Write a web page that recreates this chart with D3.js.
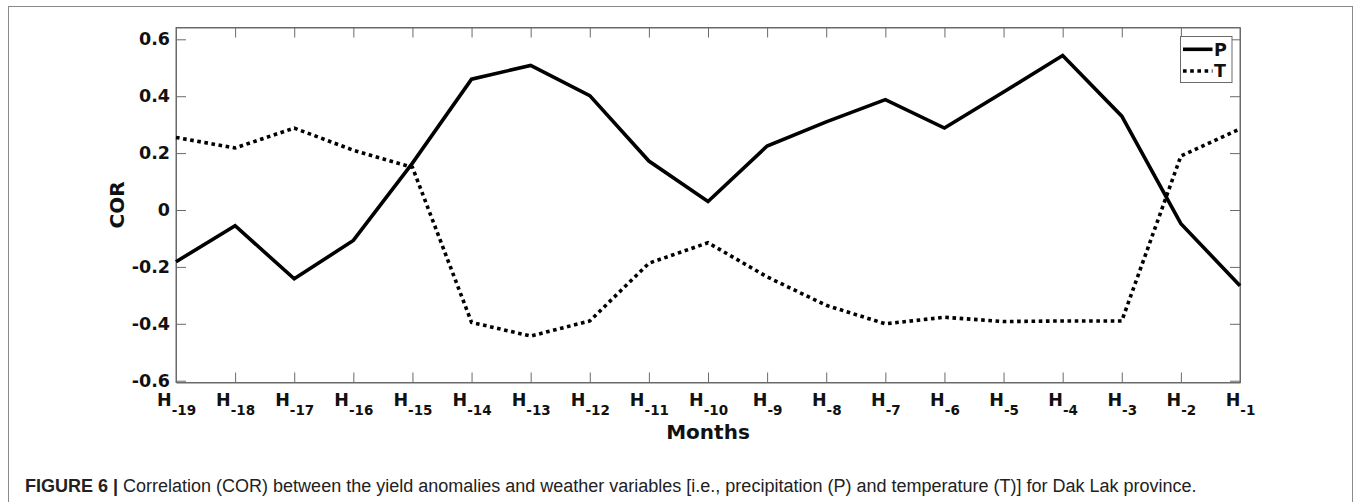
<!DOCTYPE html>
<html>
<head>
<meta charset="utf-8">
<script src="https://cdn.jsdelivr.net/npm/d3@7"></script>
<style>
  html, body { margin: 0; padding: 0; background: #fff; }
  svg { display: block; }
</style>
</head>
<body>
<svg id="chart" width="1354" height="502"></svg>
<script>
// ---- data ----
const months = ["-19","-18","-17","-16","-15","-14","-13","-12","-11","-10","-9","-8","-7","-6","-5","-4","-3","-2","-1"];
const precip = [-0.182, -0.055, -0.242, -0.107, 0.165, 0.46, 0.508, 0.402, 0.172, 0.03, 0.225, 0.31, 0.388, 0.288, 0.415, 0.543, 0.33, -0.048, -0.266];
const temp   = [0.255, 0.218, 0.288, 0.21, 0.15, -0.395, -0.443, -0.39, -0.187, -0.115, -0.235, -0.335, -0.4, -0.377, -0.392, -0.39, -0.39, 0.19, 0.285];
const yTicks = [-0.6, -0.4, -0.2, 0, 0.2, 0.4, 0.6];
const yTickLabels = ["-0.6", "-0.4", "-0.2", "0", "0.2", "0.4", "0.6"];
const seriesNames = ["P", "T"];

// ---- layout ----
const svg = d3.select("#chart");
const L = 176, R = 1240, T = 27.5, B = 382.5;
const axisColor = "#6a6a6a";
const tickFont = "DejaVu Sans, sans-serif";

// outer frame
svg.append("rect")
  .attr("x", 8.5).attr("y", 6.5)
  .attr("width", 1344).attr("height", 520)
  .attr("fill", "none").attr("stroke", "#8a8a8a").attr("stroke-width", 1);

const x = d3.scalePoint().domain(months).range([L, R]).padding(0);
const y = d3.scaleLinear().domain([-0.6063, 0.6415]).range([B, T]);

// plot box
svg.append("rect")
  .attr("x", L).attr("y", T).attr("width", R - L).attr("height", B - T)
  .attr("fill", "none").attr("stroke", axisColor).attr("stroke-width", 1);

// axes
const gBottom = svg.append("g").attr("transform", `translate(0,${B})`)
  .call(d3.axisBottom(x).tickSizeInner(-10).tickSizeOuter(0).tickPadding(11));
const gTop = svg.append("g").attr("transform", `translate(0,${T})`)
  .call(d3.axisTop(x).tickSizeInner(-10).tickSizeOuter(0).tickFormat(""));
const gLeft = svg.append("g").attr("transform", `translate(${L},0)`)
  .call(d3.axisLeft(y).tickValues(yTicks).tickSizeInner(-10).tickSizeOuter(0).tickPadding(6)
        .tickFormat((d, i) => yTickLabels[i]));
const gRight = svg.append("g").attr("transform", `translate(${R},0)`)
  .call(d3.axisRight(y).tickValues(yTicks).tickSizeInner(-10).tickSizeOuter(0).tickFormat(""));

[gBottom, gTop, gLeft, gRight].forEach(g => {
  g.select(".domain").attr("stroke", axisColor);
  g.selectAll(".tick line").attr("stroke", axisColor);
});

gLeft.selectAll(".tick text")
  .attr("font-family", tickFont).attr("font-weight", "bold")
  .attr("font-size", "17.5px").attr("fill", "#111");

// x tick labels with subscripts
gBottom.selectAll(".tick text").each(function(d) {
  const t = d3.select(this);
  t.text(null)
    .attr("font-family", tickFont).attr("font-weight", "bold")
    .attr("fill", "#111").attr("font-size", "17.5px");
  t.append("tspan").text("H");
  t.append("tspan").attr("font-size", "13.5px").attr("dy", "9").text(d);
});

// axis titles
svg.append("text")
  .attr("x", (L + R) / 2).attr("y", 438.5)
  .attr("text-anchor", "middle")
  .attr("font-family", tickFont).attr("font-weight", "bold")
  .attr("font-size", "20px").attr("fill", "#111")
  .text("Months");

svg.append("text")
  .attr("transform", `translate(124,${(T + B) / 2}) rotate(-90)`)
  .attr("text-anchor", "middle")
  .attr("font-family", tickFont).attr("font-weight", "bold")
  .attr("font-size", "20px").attr("fill", "#111")
  .text("COR");

// lines
const line = d3.line().x((d, i) => x(months[i])).y(d => y(d));
const styles = { P: null, T: "3.6,3.6" };
const data = { P: precip, T: temp };

seriesNames.forEach(name => {
  svg.append("path")
    .datum(data[name])
    .attr("d", line)
    .attr("fill", "none")
    .attr("stroke", "#000")
    .attr("stroke-width", 3.6)
    .attr("stroke-dasharray", styles[name]);
});

// legend
const lg = svg.append("g");
lg.append("rect")
  .attr("x", 1180.5).attr("y", 36.5).attr("width", 51.5).attr("height", 46)
  .attr("fill", "#fff").attr("stroke", axisColor).attr("stroke-width", 1);
seriesNames.forEach((name, i) => {
  const ly = 49.3 + i * 21.7;
  lg.append("line")
    .attr("x1", 1183).attr("x2", 1212.5).attr("y1", ly).attr("y2", ly)
    .attr("stroke", "#000").attr("stroke-width", 3.6)
    .attr("stroke-dasharray", styles[name]);
  lg.append("text")
    .attr("x", 1214).attr("y", ly + 6.3)
    .attr("font-family", tickFont).attr("font-weight", "bold")
    .attr("font-size", "17.5px").attr("fill", "#111")
    .text(name);
});

// caption
const cap = svg.append("text")
  .attr("x", 25).attr("y", 492.3)
  .attr("font-family", "Liberation Sans, Arial, sans-serif")
  .attr("font-size", "18px").attr("fill", "#222");
cap.append("tspan").attr("font-weight", "bold").text("FIGURE 6 |");
cap.append("tspan").text(" Correlation (COR) between the yield anomalies and weather variables [i.e., precipitation (P) and temperature (T)] for Dak Lak province.");
</script>
</body>
</html>
